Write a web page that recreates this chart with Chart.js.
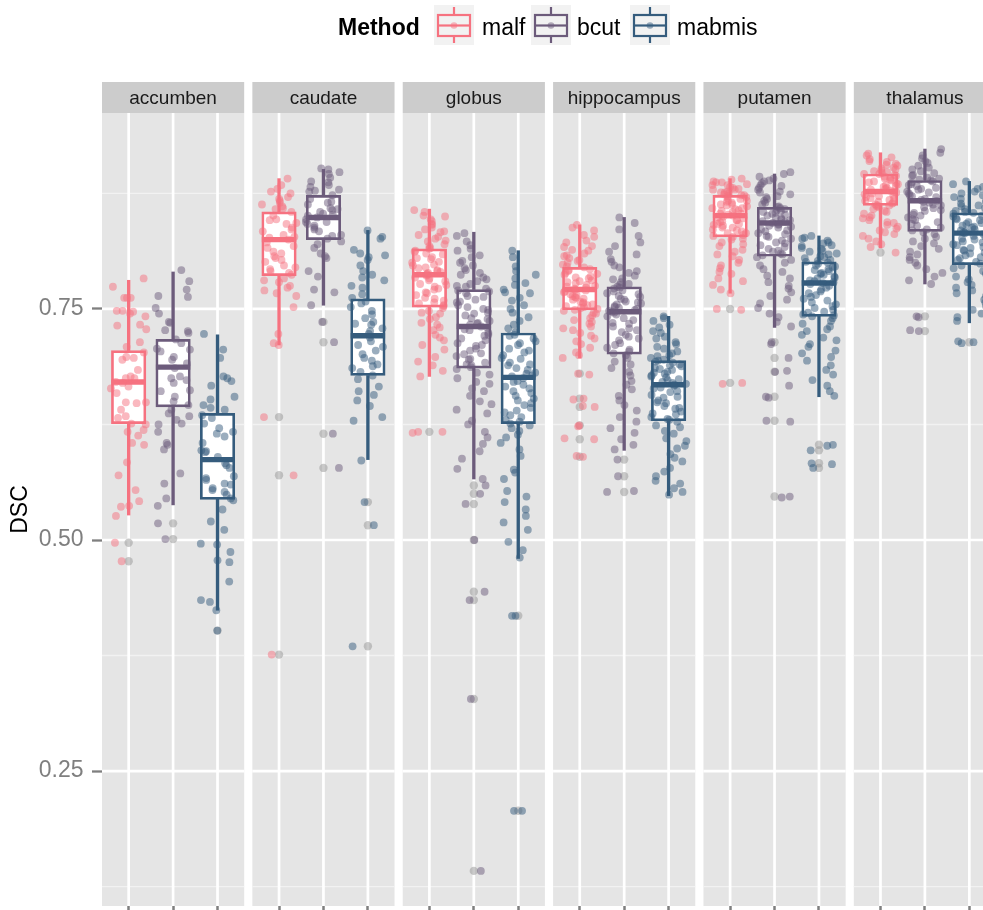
<!DOCTYPE html>
<html><head><meta charset="utf-8">
<script src="https://cdn.jsdelivr.net/npm/chart.js@4.4.1/dist/chart.umd.min.js"></script>
<style>
html,body{margin:0;padding:0;background:#fff;overflow:hidden;width:983px;height:910px;}
#wrap{position:relative;width:983px;height:910px;overflow:hidden;}
#c{position:absolute;left:0;top:0;}
.lg{position:absolute;top:16px;font-family:"Liberation Sans",Arial,Helvetica,sans-serif;font-size:23px;color:#000;line-height:23px;white-space:nowrap;}
.key{position:absolute;top:5px;width:40px;height:40px;}
</style></head><body>
<div id="wrap">
<canvas id="c" width="1000" height="910" style="width:1000px;height:910px"></canvas>
<div class="lg" style="left:338px;font-weight:bold">Method</div>
<svg class="key" style="left:434px" viewBox="0 0 40 40"><rect width="40" height="40" fill="#F2F2F2"/><line x1="20" y1="2" x2="20" y2="38" stroke="#F67280" stroke-width="2.2"/><rect x="4" y="10" width="32" height="21" fill="#F2F2F2" stroke="#F67280" stroke-width="2.2"/><line x1="4" y1="20.5" x2="36" y2="20.5" stroke="#F67280" stroke-width="2.2"/><circle cx="20" cy="20.5" r="3.3" fill="#F67280" fill-opacity="0.5"/></svg>
<div class="lg" style="left:482px">malf</div>
<svg class="key" style="left:531px" viewBox="0 0 40 40"><rect width="40" height="40" fill="#F2F2F2"/><line x1="20" y1="2" x2="20" y2="38" stroke="#6C5B7B" stroke-width="2.2"/><rect x="4" y="10" width="32" height="21" fill="#F2F2F2" stroke="#6C5B7B" stroke-width="2.2"/><line x1="4" y1="20.5" x2="36" y2="20.5" stroke="#6C5B7B" stroke-width="2.2"/><circle cx="20" cy="20.5" r="3.3" fill="#6C5B7B" fill-opacity="0.5"/></svg>
<div class="lg" style="left:577px">bcut</div>
<svg class="key" style="left:630px" viewBox="0 0 40 40"><rect width="40" height="40" fill="#F2F2F2"/><line x1="20" y1="2" x2="20" y2="38" stroke="#355C7D" stroke-width="2.2"/><rect x="4" y="10" width="32" height="21" fill="#F2F2F2" stroke="#355C7D" stroke-width="2.2"/><line x1="4" y1="20.5" x2="36" y2="20.5" stroke="#355C7D" stroke-width="2.2"/><circle cx="20" cy="20.5" r="3.3" fill="#355C7D" fill-opacity="0.5"/></svg>
<div class="lg" style="left:677px">mabmis</div>
</div>
<script>
// ---------- data ----------
const facets = ['accumben', 'caudate', 'globus', 'hippocampus', 'putamen', 'thalamus'];
const methods = ['malf', 'bcut', 'mabmis'];
const methodColors = ['#F67280', '#6C5B7B', '#355C7D'];
const methodPointColors = ['rgba(246,114,128,0.5)', 'rgba(108,91,123,0.5)', 'rgba(53,92,125,0.5)'];
const yTicks = [0.25, 0.5, 0.75];
const yMinorTicks = [0.125, 0.375, 0.625, 0.875];

// box stats per facet: [lower whisker, Q1, median, Q3, upper whisker]
const malfBoxes = [[0.527,0.626,0.671,0.705,0.781],[0.711,0.786,0.825,0.855,0.891],[0.677,0.752,0.787,0.815,0.858],[0.697,0.749,0.771,0.795,0.841],[0.767,0.828,0.851,0.873,0.891],[0.816,0.862,0.877,0.896,0.919]];
const bcutBoxes = [[0.538,0.644,0.687,0.717,0.790],[0.754,0.825,0.849,0.873,0.901],[0.566,0.686,0.731,0.771,0.833],[0.597,0.701,0.747,0.774,0.849],[0.730,0.807,0.843,0.860,0.896],[0.777,0.834,0.867,0.889,0.923]];
const mabmisBoxes = [[0.424,0.544,0.587,0.637,0.722],[0.587,0.678,0.721,0.761,0.835],[0.480,0.626,0.676,0.724,0.813],[0.548,0.629,0.668,0.694,0.742],[0.655,0.742,0.778,0.801,0.829],[0.735,0.798,0.832,0.854,0.888]];

// boxplot outliers per facet
const malfOutliers = [[0.497,0.477],[0.633,0.570,0.376],[0.617],[0.680,0.653,0.644,0.624,0.609,0.590],[0.750,0.670],[0.811]];
const bcutOutliers = [[0.518,0.501],[0.736,0.714,0.615,0.578],[0.559,0.550,0.539,0.500,0.444,0.435,0.328,0.142],[0.587,0.569,0.552],[0.714,0.697,0.682,0.655,0.629,0.547],[0.742,0.726]];
const mabmisOutliers = [[0.402],[0.541,0.516,0.385],[0.418,0.207],[],[0.603,0.597,0.583,0.578],[0.714]];

// individual DSC values (jittered points)
const accumbenMalf = [0.783,0.774,0.762,0.762,0.762,0.747,0.748,0.748,0.745,0.742,0.733,0.732,0.728,0.714,0.709,0.703,0.698,0.697,0.695,0.684,0.677,0.675,0.675,0.671,0.670,0.666,0.664,0.659,0.649,0.649,0.648,0.641,0.634,0.632,0.626,0.625,0.619,0.617,0.613,0.605,0.603,0.584,0.570,0.554,0.542,0.536,0.537,0.526,0.497,0.477];
const accumbenBcut = [0.792,0.780,0.771,0.764,0.763,0.751,0.745,0.736,0.735,0.727,0.726,0.724,0.717,0.713,0.707,0.706,0.704,0.698,0.695,0.691,0.686,0.677,0.675,0.673,0.670,0.662,0.661,0.655,0.650,0.646,0.641,0.637,0.634,0.630,0.626,0.625,0.617,0.605,0.603,0.598,0.572,0.561,0.545,0.537,0.518,0.501];
const accumbenMabmis = [0.723,0.706,0.697,0.677,0.675,0.672,0.667,0.655,0.652,0.646,0.643,0.641,0.635,0.632,0.626,0.621,0.617,0.615,0.612,0.605,0.597,0.596,0.595,0.590,0.583,0.581,0.578,0.569,0.567,0.565,0.561,0.560,0.556,0.554,0.552,0.549,0.545,0.543,0.533,0.520,0.511,0.496,0.495,0.487,0.478,0.476,0.455,0.435,0.433,0.424,0.402];
const caudateMalf = [0.891,0.884,0.880,0.877,0.875,0.871,0.869,0.867,0.865,0.863,0.861,0.859,0.858,0.855,0.851,0.847,0.846,0.843,0.842,0.838,0.836,0.834,0.830,0.828,0.827,0.825,0.822,0.818,0.816,0.812,0.810,0.807,0.805,0.803,0.801,0.797,0.795,0.793,0.791,0.789,0.787,0.783,0.781,0.779,0.775,0.773,0.770,0.767,0.764,0.752,0.723,0.713,0.711,0.633,0.570,0.376];
const caudateBcut = [0.902,0.901,0.898,0.896,0.892,0.888,0.887,0.884,0.882,0.879,0.878,0.877,0.873,0.869,0.866,0.865,0.863,0.859,0.858,0.857,0.855,0.853,0.852,0.851,0.849,0.847,0.844,0.844,0.842,0.840,0.838,0.836,0.834,0.830,0.829,0.826,0.823,0.820,0.816,0.810,0.807,0.805,0.791,0.785,0.771,0.768,0.754,0.736,0.714,0.615,0.578];
const caudateMabmis = [0.835,0.828,0.826,0.814,0.810,0.808,0.806,0.803,0.797,0.791,0.787,0.784,0.781,0.775,0.773,0.766,0.762,0.758,0.756,0.752,0.748,0.744,0.740,0.736,0.734,0.733,0.729,0.726,0.723,0.719,0.715,0.711,0.709,0.705,0.701,0.697,0.694,0.690,0.688,0.686,0.682,0.678,0.674,0.666,0.661,0.657,0.651,0.645,0.633,0.629,0.586,0.541,0.516,0.385];
const globusMalf = [0.857,0.855,0.851,0.850,0.847,0.845,0.842,0.841,0.838,0.836,0.834,0.833,0.830,0.828,0.826,0.824,0.823,0.820,0.818,0.816,0.815,0.813,0.812,0.810,0.809,0.806,0.805,0.804,0.801,0.800,0.798,0.797,0.795,0.794,0.792,0.791,0.790,0.789,0.788,0.787,0.786,0.784,0.783,0.781,0.780,0.777,0.776,0.774,0.772,0.771,0.768,0.767,0.765,0.762,0.761,0.759,0.757,0.756,0.754,0.753,0.751,0.748,0.746,0.745,0.741,0.739,0.735,0.733,0.730,0.727,0.722,0.719,0.716,0.711,0.706,0.698,0.693,0.689,0.683,0.677,0.617,0.617,0.616];
const globusBcut = [0.832,0.829,0.823,0.819,0.815,0.813,0.808,0.806,0.802,0.800,0.797,0.794,0.792,0.789,0.787,0.784,0.782,0.780,0.777,0.775,0.774,0.772,0.770,0.769,0.767,0.764,0.763,0.760,0.758,0.757,0.754,0.752,0.750,0.749,0.746,0.745,0.743,0.740,0.739,0.737,0.735,0.734,0.733,0.731,0.730,0.728,0.727,0.724,0.722,0.721,0.718,0.716,0.713,0.711,0.710,0.707,0.705,0.702,0.701,0.699,0.696,0.695,0.692,0.690,0.689,0.687,0.685,0.681,0.679,0.675,0.671,0.669,0.664,0.661,0.656,0.650,0.647,0.641,0.637,0.629,0.625,0.617,0.611,0.604,0.596,0.588,0.577,0.566,0.559,0.550,0.539,0.500,0.444,0.435,0.328,0.142];
const globusMabmis = [0.813,0.806,0.796,0.791,0.787,0.783,0.778,0.776,0.771,0.768,0.767,0.762,0.759,0.754,0.750,0.746,0.741,0.737,0.733,0.729,0.725,0.722,0.721,0.718,0.715,0.713,0.711,0.707,0.705,0.703,0.700,0.697,0.696,0.692,0.690,0.689,0.686,0.684,0.681,0.680,0.678,0.677,0.675,0.672,0.671,0.668,0.666,0.664,0.661,0.659,0.656,0.653,0.651,0.648,0.646,0.643,0.640,0.638,0.635,0.633,0.630,0.628,0.626,0.624,0.621,0.618,0.614,0.611,0.605,0.598,0.591,0.576,0.573,0.566,0.553,0.547,0.541,0.533,0.526,0.519,0.511,0.498,0.489,0.481,0.418,0.418,0.207,0.207];
const hippocampusMalf = [0.841,0.838,0.835,0.830,0.828,0.824,0.822,0.818,0.817,0.814,0.813,0.810,0.808,0.807,0.805,0.803,0.802,0.800,0.798,0.796,0.795,0.793,0.792,0.791,0.789,0.788,0.787,0.785,0.784,0.783,0.781,0.780,0.779,0.778,0.776,0.775,0.774,0.773,0.772,0.771,0.770,0.769,0.768,0.766,0.765,0.764,0.763,0.762,0.761,0.760,0.758,0.757,0.756,0.755,0.754,0.753,0.752,0.751,0.750,0.749,0.748,0.746,0.745,0.743,0.740,0.738,0.736,0.734,0.731,0.729,0.727,0.724,0.721,0.718,0.715,0.712,0.708,0.703,0.700,0.697,0.680,0.679,0.653,0.652,0.645,0.644,0.624,0.623,0.610,0.609,0.591,0.590];
const hippocampusBcut = [0.849,0.843,0.836,0.829,0.822,0.818,0.812,0.809,0.804,0.801,0.797,0.795,0.791,0.789,0.786,0.783,0.782,0.779,0.777,0.776,0.774,0.773,0.772,0.770,0.769,0.767,0.766,0.764,0.763,0.761,0.760,0.758,0.757,0.756,0.755,0.753,0.752,0.751,0.750,0.749,0.748,0.747,0.746,0.744,0.742,0.740,0.738,0.735,0.734,0.731,0.729,0.727,0.725,0.722,0.720,0.718,0.716,0.713,0.711,0.708,0.706,0.704,0.702,0.700,0.697,0.693,0.690,0.686,0.682,0.678,0.672,0.668,0.663,0.656,0.651,0.646,0.640,0.633,0.628,0.621,0.616,0.609,0.603,0.598,0.587,0.569,0.553,0.552];
const hippocampusMabmis = [0.742,0.740,0.737,0.733,0.730,0.726,0.724,0.720,0.718,0.714,0.712,0.709,0.707,0.704,0.702,0.700,0.699,0.697,0.695,0.694,0.693,0.692,0.690,0.689,0.688,0.686,0.685,0.684,0.682,0.681,0.680,0.678,0.677,0.676,0.674,0.673,0.671,0.670,0.669,0.668,0.667,0.665,0.664,0.661,0.660,0.657,0.655,0.654,0.651,0.649,0.648,0.645,0.643,0.642,0.639,0.637,0.636,0.633,0.631,0.630,0.628,0.624,0.622,0.618,0.615,0.610,0.607,0.602,0.599,0.593,0.589,0.585,0.578,0.574,0.569,0.564,0.561,0.556,0.552,0.549];
const putamenMalf = [0.891,0.890,0.888,0.887,0.887,0.885,0.884,0.884,0.882,0.881,0.880,0.879,0.879,0.877,0.876,0.876,0.875,0.874,0.873,0.873,0.872,0.871,0.870,0.869,0.867,0.867,0.866,0.865,0.863,0.863,0.862,0.861,0.859,0.859,0.858,0.857,0.856,0.855,0.853,0.853,0.852,0.851,0.850,0.849,0.848,0.846,0.846,0.845,0.844,0.842,0.842,0.841,0.840,0.838,0.838,0.836,0.835,0.834,0.832,0.832,0.830,0.829,0.828,0.826,0.825,0.822,0.820,0.818,0.814,0.812,0.809,0.807,0.803,0.800,0.797,0.794,0.790,0.788,0.783,0.780,0.776,0.771,0.767,0.750,0.749,0.670,0.669];
const putamenBcut = [0.898,0.896,0.893,0.891,0.889,0.888,0.886,0.884,0.883,0.881,0.879,0.877,0.876,0.874,0.872,0.871,0.869,0.867,0.865,0.863,0.861,0.860,0.859,0.858,0.857,0.856,0.855,0.854,0.853,0.852,0.851,0.849,0.848,0.847,0.846,0.845,0.844,0.843,0.842,0.841,0.840,0.839,0.838,0.836,0.835,0.834,0.832,0.831,0.829,0.828,0.826,0.824,0.822,0.821,0.819,0.817,0.815,0.813,0.812,0.810,0.809,0.808,0.806,0.803,0.800,0.797,0.793,0.790,0.786,0.783,0.779,0.775,0.772,0.768,0.764,0.760,0.756,0.751,0.745,0.741,0.736,0.731,0.714,0.712,0.697,0.683,0.682,0.667,0.655,0.654,0.629,0.628,0.547,0.546];
const putamenMabmis = [0.829,0.827,0.826,0.824,0.822,0.821,0.819,0.818,0.816,0.815,0.813,0.812,0.810,0.809,0.807,0.806,0.805,0.803,0.802,0.801,0.800,0.799,0.797,0.796,0.795,0.793,0.792,0.791,0.789,0.788,0.787,0.785,0.784,0.783,0.781,0.780,0.779,0.778,0.777,0.775,0.773,0.771,0.769,0.767,0.765,0.763,0.761,0.759,0.757,0.755,0.753,0.751,0.749,0.747,0.746,0.744,0.743,0.742,0.740,0.737,0.734,0.731,0.728,0.726,0.722,0.719,0.716,0.712,0.709,0.705,0.702,0.698,0.694,0.689,0.684,0.679,0.673,0.667,0.661,0.656,0.603,0.602,0.597,0.583,0.582,0.578];
const thalamusMalf = [0.918,0.916,0.914,0.912,0.910,0.909,0.907,0.906,0.905,0.903,0.902,0.901,0.900,0.899,0.898,0.897,0.896,0.896,0.895,0.894,0.893,0.892,0.891,0.890,0.889,0.888,0.887,0.886,0.885,0.884,0.883,0.882,0.881,0.880,0.879,0.878,0.877,0.876,0.875,0.874,0.873,0.872,0.871,0.870,0.869,0.868,0.867,0.866,0.865,0.864,0.863,0.862,0.862,0.861,0.860,0.858,0.856,0.855,0.853,0.851,0.849,0.848,0.846,0.844,0.843,0.841,0.839,0.837,0.835,0.833,0.831,0.829,0.826,0.823,0.820,0.817,0.811];
const thalamusBcut = [0.923,0.919,0.916,0.913,0.910,0.908,0.905,0.903,0.901,0.899,0.897,0.895,0.894,0.892,0.891,0.890,0.889,0.888,0.887,0.885,0.884,0.883,0.881,0.880,0.879,0.877,0.876,0.875,0.873,0.872,0.871,0.869,0.868,0.867,0.866,0.865,0.863,0.862,0.860,0.859,0.857,0.856,0.854,0.852,0.851,0.849,0.847,0.846,0.844,0.842,0.840,0.838,0.836,0.835,0.833,0.831,0.828,0.826,0.823,0.821,0.818,0.815,0.812,0.809,0.806,0.803,0.800,0.797,0.793,0.789,0.785,0.781,0.777,0.742,0.741,0.727,0.726];
const thalamusMabmis = [0.888,0.885,0.882,0.880,0.877,0.875,0.873,0.871,0.869,0.867,0.866,0.864,0.862,0.861,0.859,0.858,0.856,0.855,0.854,0.853,0.851,0.850,0.848,0.847,0.846,0.844,0.843,0.842,0.840,0.839,0.838,0.836,0.835,0.834,0.833,0.832,0.831,0.829,0.828,0.826,0.825,0.823,0.822,0.820,0.819,0.817,0.816,0.814,0.813,0.811,0.810,0.808,0.806,0.805,0.803,0.801,0.799,0.797,0.794,0.791,0.788,0.785,0.782,0.779,0.776,0.773,0.770,0.767,0.764,0.760,0.757,0.753,0.749,0.745,0.741,0.737,0.715,0.714,0.713];

// ---------- assembly ----------
const boxStats = [malfBoxes, bcutBoxes, mabmisBoxes];
const outlierSets = [malfOutliers, bcutOutliers, mabmisOutliers];
const pointSets = [
  [accumbenMalf, caudateMalf, globusMalf, hippocampusMalf, putamenMalf, thalamusMalf],
  [accumbenBcut, caudateBcut, globusBcut, hippocampusBcut, putamenBcut, thalamusBcut],
  [accumbenMabmis, caudateMabmis, globusMabmis, hippocampusMabmis, putamenMabmis, thalamusMabmis]
];

const PANEL = 3.2, STEP = 3.384;
const catX = (f, m) => f * STEP + 0.6 + m;
// deterministic horizontal spread of the jittered points (a layout offset, not data)
const jit = (i, f, m) => {
  const h = Math.sin((i + 1) * 12.9898 + f * 78.233 + m * 37.719) * 43758.5453;
  return ((h - Math.floor(h)) - 0.5) * 0.8;
};
const FONT = '"Liberation Sans", Arial, Helvetica, sans-serif';
Chart.defaults.font.family = FONT;

const datasets = [];
methods.forEach((name, m) => {
  const color = methodColors[m];
  const boxes = boxStats[m];
  const whiskers = [];
  boxes.forEach((b, f) => {
    whiskers.push({x: catX(f, m), y: [b[0], b[1]]});
    whiskers.push({x: catX(f, m), y: [b[3], b[4]]});
  });
  datasets.push({type: 'bar', label: name + ' whisker', data: whiskers, backgroundColor: color,
    borderWidth: 0, barThickness: 2.7, grouped: false, order: 6});
  datasets.push({type: 'bar', label: name, data: boxes.map((b, f) => ({x: catX(f, m), y: [b[1], b[3]]})),
    backgroundColor: '#FFFFFF', borderColor: color, borderWidth: 2.7, borderSkipped: false,
    barThickness: 34.5, grouped: false, order: 5});
  datasets.push({type: 'scatter', label: name + ' median', data: boxes.map((b, f) => ({x: catX(f, m), y: b[2]})),
    pointStyle: 'line', pointRadius: 17.2, pointBorderColor: color, pointBorderWidth: 5.4,
    pointBackgroundColor: color, order: 4});
  const outs = [];
  outlierSets[m].forEach((arr, f) => arr.forEach(v => outs.push({x: catX(f, m), y: v})));
  datasets.push({type: 'scatter', label: name + ' outliers', data: outs, pointRadius: 4.2,
    pointBackgroundColor: 'rgba(150,150,150,0.5)', pointBorderWidth: 0, order: 3});
  const pts = [];
  pointSets[m].forEach((arr, f) => arr.forEach((v, i) => pts.push({x: catX(f, m) + jit(i, f, m), y: v})));
  datasets.push({type: 'scatter', label: name + ' points', data: pts, pointRadius: 3.9,
    pointBackgroundColor: methodPointColors[m], pointBorderWidth: 0, order: 1});
});

const facetPlugin = {
  id: 'facetPanels',
  beforeDatasetsDraw(chart) {
    const {ctx, chartArea: a, scales: {x, y}} = chart;
    ctx.save();
    const hline = (x0, x1, py) => { ctx.beginPath(); ctx.moveTo(x0, py); ctx.lineTo(x1, py); ctx.stroke(); };
    facets.forEach((name, f) => {
      const x0 = x.getPixelForValue(f * STEP), x1 = x.getPixelForValue(f * STEP + PANEL);
      ctx.fillStyle = '#E5E5E5';
      ctx.fillRect(x0, a.top, x1 - x0, a.bottom - a.top);
      ctx.strokeStyle = '#F2F2F2'; ctx.lineWidth = 1.4;
      yMinorTicks.forEach(v => hline(x0, x1, y.getPixelForValue(v)));
      ctx.strokeStyle = '#FFFFFF'; ctx.lineWidth = 2.7;
      yTicks.forEach(v => hline(x0, x1, y.getPixelForValue(v)));
      methods.forEach((_, m) => {
        const px = x.getPixelForValue(catX(f, m));
        ctx.beginPath(); ctx.moveTo(px, a.top); ctx.lineTo(px, a.bottom); ctx.stroke();
      });
      ctx.fillStyle = '#CCCCCC';
      ctx.fillRect(x0, a.top - 31, x1 - x0, 31);
      ctx.fillStyle = '#1A1A1A';
      ctx.font = '19px ' + FONT;
      ctx.textAlign = 'center'; ctx.textBaseline = 'middle';
      ctx.fillText(name, (x0 + x1) / 2, a.top - 14.6);
    });
    ctx.restore();
  }
};

new Chart(document.getElementById('c'), {
  type: 'bar',
  data: {datasets},
  options: {
    responsive: false, maintainAspectRatio: false, animation: false, devicePixelRatio: 1, events: [],
    layout: {autoPadding: false, padding: {top: 113, left: 0, right: 4, bottom: 0}},
    plugins: {legend: {display: false}, tooltip: {enabled: false}, title: {display: false}},
    scales: {
      x: {
        type: 'linear', min: 0, max: 5 * STEP + PANEL, offset: false,
        grid: {drawOnChartArea: false, drawTicks: true, tickLength: 4, tickWidth: 2.5, tickColor: '#7F7F7F', offset: false},
        border: {display: false},
        ticks: {display: false, autoSkip: false},
        afterBuildTicks: s => { const t = []; facets.forEach((_, f) => methods.forEach((_, m) => t.push({value: catX(f, m)}))); s.ticks = t; },
        afterFit: s => { s.height = 4; s.paddingLeft = 0; s.paddingRight = 0; }
      },
      y: {
        type: 'linear', min: 0.104, max: 0.962, beginAtZero: false,
        grid: {drawOnChartArea: false, drawTicks: true, tickLength: 10, tickWidth: 2.3, tickColor: '#7F7F7F'},
        border: {display: false},
        ticks: {color: '#7F7F7F', font: {size: 23}, padding: 8.5, callback: v => v.toFixed(2)},
        afterBuildTicks: s => { s.ticks = yTicks.map(v => ({value: v})); },
        afterFit: s => { s.width = 102; s.paddingTop = 0; s.paddingBottom = 0; },
        title: {display: true, text: 'DSC', color: '#000000', font: {size: 23}, padding: {top: 7, bottom: 0}}
      }
    }
  },
  plugins: [facetPlugin]
});
</script>
</body></html>
